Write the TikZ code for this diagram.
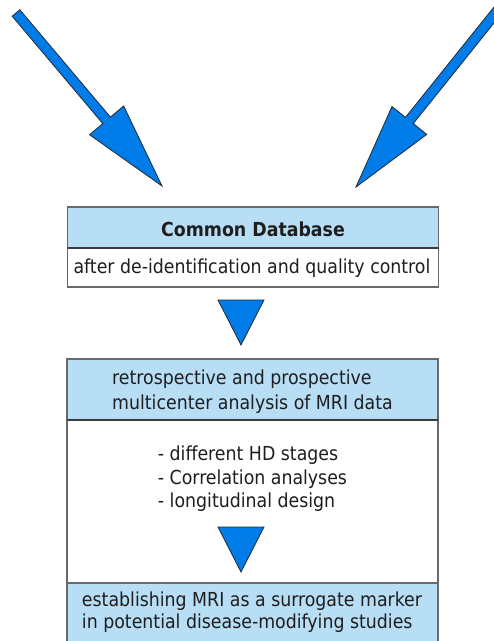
\documentclass[tikz,border=0pt]{standalone}
\usepackage{fontspec}
\setmainfont{DejaVu Sans Condensed}
\usetikzlibrary{calc}
\definecolor{hdrblue}{RGB}{183,222,245}
\definecolor{boxgray}{RGB}{105,105,105}
\definecolor{sepgray}{RGB}{60,60,60}
\definecolor{arrowblue}{RGB}{0,124,232}
\definecolor{arrowedge}{RGB}{35,40,50}
\definecolor{textgray}{RGB}{30,30,30}
\begin{document}
\begin{tikzpicture}[x=1pt,y=-1pt,
  panel/.style={draw=boxgray, line width=1.5pt, minimum width=371pt, inner sep=0pt, outer sep=0pt},
  hdr/.style={panel, fill=hdrblue},
  body/.style={panel, fill=white},
  txt/.style={font=\fontsize{19.3}{24}\selectfont, align=left, inner sep=0pt, text=textgray},
  bigarrow/.style={fill=arrowblue, draw=arrowedge, line width=0.8pt, line join=miter},
  sep/.style={draw=sepgray, line width=1.8pt}
]
\useasboundingbox (0,0) rectangle (494,641);
\begin{scope}
\clip (0,0) rectangle (494,641);

% left big arrow
\coordinate (LT) at (16,13);
\coordinate (LP) at (162,186);
\coordinate (LB) at ($(LP)!85.9pt!(LT)$);
\path[bigarrow] ($(LT)!5pt!90:(LP)$) -- ($(LB)!5pt!90:(LP)$) -- ($(LB)!22.3pt!90:(LP)$)
  -- (LP) -- ($(LB)!22.3pt!-90:(LP)$) -- ($(LB)!5pt!-90:(LP)$) -- ($(LT)!5pt!-90:(LP)$) -- cycle;

% right big arrow
\coordinate (RT) at (498,10);
\coordinate (RP) at (356,187);
\coordinate (RB) at ($(RP)!85.3pt!(RT)$);
\path[bigarrow] ($(RT)!5pt!90:(RP)$) -- ($(RB)!5pt!90:(RP)$) -- ($(RB)!22.3pt!90:(RP)$)
  -- (RP) -- ($(RB)!22.3pt!-90:(RP)$) -- ($(RB)!5pt!-90:(RP)$) -- ($(RT)!5pt!-90:(RP)$) -- cycle;

% Common Database box
\node[hdr, minimum height=41pt] (dbh) at (253,227.5) {};
\node[body, minimum height=39pt] (dbb) at (253,267.5) {};
\draw[sep] (dbh.south west) -- (dbh.south east);
\node[txt, font=\fontsize{19.3}{24}\selectfont\bfseries] (dbt) at (253,229) {Common Database};
\node[txt] (dbs) at (252,268) {after de-identification and quality control};

% triangle 1
\path[bigarrow] (218,300) coordinate (t1a) -- (264,300) coordinate (t1b) -- (241,345) coordinate (t1c) -- cycle;

% analysis box
\node[hdr, minimum height=61pt] (anh) at (252.5,389.5) {};
\node[body, minimum height=163pt] (anb) at (252.5,501.5) {};
\node[hdr, minimum height=80pt] (esh) at (252.5,623) {};
\draw[sep] (anh.south west) -- (anh.south east);
\node[txt, font=\fontsize{19.3}{25}\selectfont] (ant) at (252.5,392) {retrospective and prospective\\multicenter analysis of MRI data};
\node[txt, font=\fontsize{19.3}{23.5}\selectfont] (anl) at (252.5,479) {- different HD stages\\- Correlation analyses\\- longitudinal design};

% triangle 2
\path[bigarrow] (218,527) coordinate (t2a) -- (264,527) coordinate (t2b) -- (241,572) coordinate (t2c) -- cycle;

\node[txt, font=\fontsize{19.3}{22}\selectfont] (est) at (252,612) {establishing MRI as a surrogate marker\\in potential disease-modifying studies};
\end{scope}
\end{tikzpicture}
\end{document}
